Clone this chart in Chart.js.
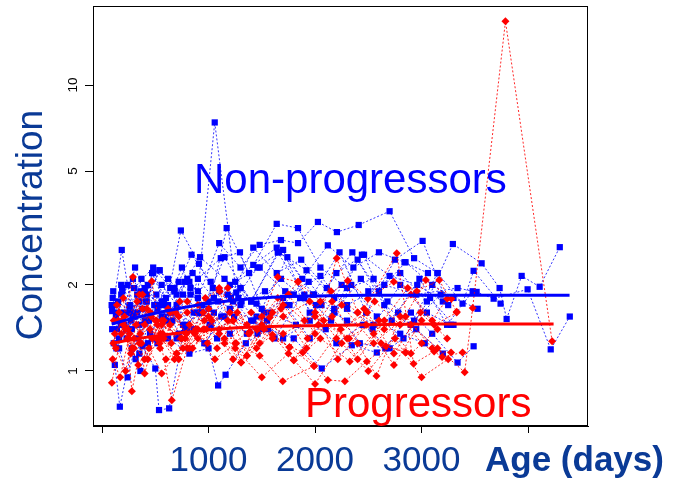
<!DOCTYPE html>
<html>
<head>
<meta charset="utf-8">
<script src="https://cdn.jsdelivr.net/npm/chart.js@4.4.0/dist/chart.umd.min.js"></script>
<style>
  html, body { margin: 0; padding: 0; background: #ffffff; }
  #wrap { width: 675px; height: 481px; position: relative; }
</style>
</head>
<body>
<div id="wrap"><canvas id="c" width="675" height="481"></canvas></div>
<script>
// Longitudinal concentration by age, one dotted trace per child.

// Non-progressors: visit ages (days) and measured concentration
const nonProgDays = [
  [95, 185, 290, 400, 520, 650, 780, 900, 1058, 1260, 1450, 1680, 1900],
  [110, 190, 280, 380, 470, 580, 740, 910, 1090, 1300, 1520, 1760, 2010, 2250],
  [150, 270, 400, 560, 720, 900, 1100, 1300, 1480, 1680, 1840, 2027, 2205, 2410, 2700, 2930, 3150],
  [100, 175, 260, 360, 460, 560, 690, 830, 1000, 1170, 1380, 1640, 1840, 2050, 2300, 2550],
  [120, 167, 280, 360, 450, 560, 700, 860, 1020, 1200, 1420],
  [140, 260, 380, 500, 535, 630, 780, 940, 1120, 1310, 1530, 1760, 1990],
  [180, 330, 480, 620, 760, 900, 1115, 1295, 1500, 1740, 1980, 2230, 2480, 2750, 3010, 3250],
  [90, 230, 370, 510, 660, 830, 1010, 1230, 1460, 1700, 1950, 2200, 2460, 2720, 2980, 3240, 3480],
  [2500, 2800, 3050, 3294, 3564, 3733, 3799, 3940, 4109, 4298],
  [2300, 2650, 2950, 3338, 3517, 3677, 3996, 4213, 4392],
  [130, 240, 350, 470, 600, 750, 930, 1150, 1400, 1650, 1900, 2150, 2400, 2650, 2900, 3150, 3385, 3489, 3742],
  [160, 300, 430, 580, 720, 890, 1080, 1280, 1500, 1720, 1950, 2180, 2420, 2660, 2900, 3100, 3338, 3489],
  [105, 200, 310, 420, 540, 680, 840, 1020, 1210, 1420, 1640, 1870, 2110, 2350, 2600, 2850, 3100, 3300, 3526],
  [210, 350, 490, 640, 800, 980, 1180, 1400, 1620, 1860, 2100, 2340, 2580, 2830, 3080, 3300],
  [115, 190, 270, 350, 430, 520, 620, 760, 920, 1100, 1300],
  [250, 420, 600, 800, 1000, 1200, 1420, 1640, 1880, 2120, 2360, 2600, 2840, 3060],
  [135, 225, 315, 410, 510, 640, 790, 960, 1150, 1360, 1580, 1820, 2060, 2300, 2540, 2780],
  [300, 480, 700, 920, 1150, 1400, 1660, 1920, 2180, 2440, 2700, 2960, 3200],
  [95, 160, 240, 330, 420, 520, 640, 780, 940],
  [400, 600, 820, 1050, 1300, 1550, 1800, 2050, 2300, 2550, 2800, 3050, 3277],
  [180, 290, 410, 540, 680, 850, 1050, 1250, 1480, 1720],
  [1200, 1450, 1700, 1950, 2200, 2450, 2700, 2950, 3200],
  [620, 820, 1000, 1090, 1160, 1350, 1560, 1800, 2063, 2345, 2580, 2800, 3030],
  [140, 230, 330, 440, 560, 700, 860, 1040, 1240, 1460, 1700, 1940, 2180, 2430, 2680, 2930, 3180]
];
const nonProgConc = [
  [1.62, 2.65, 1.55, 1.95, 1.7, 1.48, 2.05, 1.9, 7.4, 1.88, 1.72, 2.1, 1.8],
  [1.25, 1.95, 1.4, 1.65, 1.3, 1.55, 3.1, 2.37, 1.75, 1.95, 1.6, 1.85, 1.7, 2.0],
  [1.75, 1.6, 1.9, 1.7, 2.05, 1.8, 2.8, 2.3, 2.76, 2.87, 2.8, 3.32, 3.06, 3.24, 3.62, 2.48, 2.2],
  [1.8, 1.45, 1.7, 1.9, 1.55, 1.75, 1.6, 1.85, 1.65, 3.16, 2.2, 3.27, 3.16, 2.3, 1.95, 2.1],
  [1.05, 0.75, 1.2, 1.0, 1.35, 1.55, 1.3, 1.6, 1.45, 1.65, 1.5],
  [1.4, 1.68, 1.22, 1.02, 0.73, 0.74, 1.45, 1.6, 1.55, 1.75, 1.9, 1.7, 1.85],
  [2.0, 1.6, 2.2, 1.7, 1.45, 2.1, 2.48, 2.6, 1.65, 2.5, 1.85, 2.6, 1.6, 2.45, 2.85, 1.7],
  [1.7, 1.4, 2.1, 1.85, 1.5, 1.95, 1.45, 1.75, 2.3, 2.65, 1.6, 2.2, 2.55, 1.5, 2.1, 1.45, 1.9],
  [1.9, 2.2, 1.75, 2.78, 2.38, 1.95, 1.52, 2.15, 1.97, 2.71],
  [1.7, 2.0, 1.85, 1.95, 1.89, 1.79, 1.93, 1.19, 1.55],
  [1.55, 2.0, 1.45, 2.2, 1.7, 2.3, 1.6, 2.5, 1.75, 2.6, 1.85, 1.5, 2.45, 1.7, 1.45, 2.2, 1.72, 2.24, 1.72],
  [1.3, 1.55, 1.25, 1.75, 1.35, 1.6, 1.3, 1.8, 1.4, 1.7, 1.3, 1.65, 1.25, 1.2, 1.6, 1.35, 1.07, 1.22],
  [1.9, 1.6, 2.3, 1.75, 2.25, 1.9, 2.55, 2.05, 1.8, 2.7, 2.2, 2.45, 1.95, 2.6, 1.9, 2.4, 2.0, 1.8, 1.65],
  [1.45, 1.15, 1.7, 1.95, 1.4, 1.25, 1.85, 1.5, 1.3, 1.8, 1.4, 2.0, 1.55, 1.3, 1.8, 1.45],
  [1.7, 1.9, 1.5, 1.75, 2.0, 1.65, 2.1, 1.85, 1.6, 1.9, 1.7],
  [1.6, 1.85, 1.5, 2.1, 1.75, 2.0, 2.35, 2.7, 2.1, 2.75, 2.3, 2.6, 2.4, 2.2],
  [1.2, 1.4, 1.1, 1.5, 1.3, 1.6, 1.4, 1.25, 1.55, 1.35, 1.6, 1.45, 1.7, 1.5, 1.4, 1.6],
  [1.95, 2.3, 1.85, 2.5, 2.1, 1.75, 2.6, 2.25, 1.8, 2.55, 2.15, 2.0, 1.75],
  [1.4, 1.2, 0.95, 1.3, 1.5, 1.25, 1.6, 1.4, 1.7],
  [1.5, 1.8, 2.05, 1.6, 1.95, 1.5, 1.85, 2.15, 1.65, 1.45, 2.0, 1.6, 1.45],
  [1.85, 2.1, 1.75, 2.25, 1.95, 2.2, 1.8, 2.05, 2.3, 1.9],
  [1.35, 1.55, 1.3, 1.5, 1.25, 1.45, 1.2, 1.4, 1.15],
  [1.3, 1.15, 1.2, 0.89, 0.97, 1.25, 1.4, 1.3, 1.02, 1.23, 1.16, 1.35, 1.25],
  [1.6, 1.3, 1.85, 1.5, 2.0, 1.7, 1.4, 1.95, 1.55, 1.35, 1.8, 2.05, 1.6, 2.1, 1.75, 1.5, 1.85]
];

// Progressors: visit ages (days) and measured concentration
const progDays = [
  [300, 560, 820, 1100, 1400, 1700, 2000, 2300, 2600, 2900, 3150, 3405, 3480, 3788, 4226],
  [92, 180, 290, 400, 520, 655, 800, 960],
  [110, 200, 280, 370, 467, 560, 680, 820, 990, 1180, 1380],
  [130, 220, 320, 430, 550, 690, 850, 1030, 1230, 1450, 1680, 1920, 2160, 2400, 2650, 2900, 3150],
  [160, 260, 380, 510, 650, 800, 980, 1180, 1387, 1600, 1840, 2080, 2320, 2560, 2800, 3040, 3280],
  [100, 170, 250, 340, 440, 560, 700, 870, 1060, 1260, 1480, 1697, 1990],
  [200, 330, 470, 620, 790, 970, 1105, 1305, 1520, 1760, 2000, 2214, 2480, 2740, 3000],
  [240, 400, 580, 760, 950, 1150, 1360, 1575, 1800, 2030, 2203, 2400, 2620, 2850],
  [350, 560, 780, 1000, 1230, 1460, 1650, 1840, 2050, 2307, 2496, 2739, 2955, 3166, 3330],
  [120, 210, 300, 400, 510, 640, 790, 960, 1150, 1360, 1600, 1885, 2120, 2280, 2486, 2665, 2850],
  [450, 700, 950, 1200, 1450, 1700, 1950, 2200, 2460, 2767, 2925, 3118, 3277],
  [150, 280, 420, 570, 730, 900, 1080, 1270, 1480, 1700, 1930, 2160, 2400, 2577, 2800, 3000, 3193, 3385],
  [600, 900, 1230, 1360, 1600, 1800, 2050, 2326, 2550, 2870, 3100, 3240],
  [105, 185, 270, 360, 455, 545, 640, 740],
  [220, 380, 540, 720, 900, 1100, 1305, 1500, 1760, 1990, 2240, 2490, 2740, 2990, 3240],
  [800, 1100, 1387, 1650, 1900, 2150, 2400, 2650, 2900, 3118, 3330],
  [140, 240, 350, 460, 580, 720, 880],
  [1250, 1500, 1750, 2000, 2250, 2500, 2750, 3000, 3250],
  [500, 750, 1000, 1250, 1500, 1750, 2000, 2250, 2550, 2850, 3100]
];
const progConc = [
  [1.3, 1.5, 1.2, 1.4, 1.6, 1.35, 1.55, 1.3, 1.5, 1.45, 1.2, 0.99, 1.66, 16.7, 1.27],
  [0.91, 1.35, 2.13, 0.98, 1.45, 0.79, 1.2, 1.4],
  [1.5, 1.8, 0.85, 1.25, 2.06, 1.3, 1.1, 1.45, 1.25, 1.5, 1.35],
  [1.2, 1.0, 1.45, 1.1, 1.35, 1.6, 1.2, 1.5, 1.1, 1.4, 1.65, 1.2, 1.55, 1.1, 1.5, 1.15, 1.4],
  [1.6, 1.35, 1.85, 1.5, 1.25, 1.75, 1.4, 1.95, 1.37, 1.6, 2.05, 1.5, 1.3, 1.75, 1.45, 2.08, 1.79],
  [1.1, 0.95, 1.3, 1.05, 1.2, 0.98, 1.15, 1.35, 1.1, 1.25, 1.13, 0.92, 1.04],
  [1.45, 1.75, 1.3, 1.65, 1.35, 1.8, 1.9, 1.07, 1.4, 1.21, 1.6, 1.1, 1.45, 1.05, 1.5],
  [1.3, 1.1, 1.5, 1.2, 1.6, 1.3, 1.13, 1.54, 1.09, 1.45, 2.48, 1.6, 1.25, 1.16],
  [1.25, 1.45, 1.3, 1.55, 1.5, 1.4, 2.13, 2.05, 1.75, 2.07, 1.79, 2.05, 1.9, 2.08, 1.61],
  [1.35, 1.55, 1.2, 1.45, 1.3, 1.6, 1.35, 1.5, 1.25, 1.45, 1.3, 1.16, 0.93, 0.92, 1.08, 1.22, 1.16],
  [1.4, 1.15, 1.4, 1.6, 1.2, 1.55, 1.75, 1.3, 1.65, 2.58, 1.06, 1.17, 1.16],
  [1.5, 1.2, 1.65, 1.35, 1.75, 1.4, 1.2, 1.6, 1.25, 1.7, 1.3, 1.75, 1.25, 0.96, 1.55, 1.25, 1.12, 1.16],
  [1.1, 1.3, 1.5, 1.13, 1.34, 1.09, 1.3, 1.08, 1.35, 1.95, 1.5, 1.79],
  [1.25, 1.5, 1.15, 1.35, 1.6, 1.2, 1.45, 1.3],
  [1.4, 1.65, 1.25, 1.55, 1.7, 1.35, 1.07, 1.45, 1.21, 1.04, 1.4, 1.6, 1.15, 1.6, 1.3],
  [1.6, 1.95, 1.37, 1.8, 1.5, 1.9, 1.6, 1.4, 1.85, 1.45, 1.6],
  [1.7, 1.4, 1.85, 1.55, 1.3, 1.1, 1.4],
  [1.2, 0.95, 1.15, 0.9, 1.25, 1.0, 1.3, 0.95, 1.1],
  [1.5, 1.3, 1.65, 1.25, 1.55, 1.85, 1.35, 1.7, 1.25, 1.55, 1.2]
];

// Smoothed group means
const nonProgSmoothDays = [90, 300, 600, 900, 1200, 1600, 2000, 2500, 3000, 3500, 4000, 4390];
const nonProgSmoothConc = [1.46, 1.53, 1.62, 1.70, 1.76, 1.81, 1.83, 1.84, 1.84, 1.84, 1.84, 1.84];
const progSmoothDays = [90, 300, 600, 900, 1200, 1600, 2000, 2500, 3000, 3500, 4000, 4240];
const progSmoothConc = [1.25, 1.29, 1.34, 1.38, 1.41, 1.43, 1.44, 1.45, 1.46, 1.46, 1.46, 1.46];

// Axis ticks
const xTickValues = [0, 1000, 2000, 3000, 4000];
const xTickLabels = ['', '1000', '2000', '3000', ''];
const yTickValues = [1, 2, 5, 10];
const yTickLabels = ['1', '2', '5', '10'];

const BLUE = '#0000ff';
const RED = '#ff0000';
const AXIS_BLUE = '#0a3a96';
const FONT = '"Liberation Sans", Arial, Helvetica, sans-serif';

function toPoints(days, conc) {
  return days.map((d, i) => ({ x: d, y: conc[i] }));
}

const datasets = [];
datasets.push({
  data: toPoints(progSmoothDays, progSmoothConc),
  showLine: true, borderColor: RED, borderWidth: 3, pointRadius: 0,
  cubicInterpolationMode: 'monotone', order: 0
});
datasets.push({
  data: toPoints(nonProgSmoothDays, nonProgSmoothConc),
  showLine: true, borderColor: BLUE, borderWidth: 3, pointRadius: 0,
  cubicInterpolationMode: 'monotone', order: 0
});
progDays.forEach((d, i) => datasets.push({
  data: toPoints(d, progConc[i]),
  showLine: true, borderColor: 'rgba(255,0,0,0.85)', borderWidth: 1, borderDash: [2, 2],
  pointStyle: 'rectRot', pointRadius: 4, pointBackgroundColor: RED,
  pointBorderWidth: 0, pointHoverRadius: 4, order: 1
}));
nonProgDays.forEach((d, i) => datasets.push({
  data: toPoints(d, nonProgConc[i]),
  showLine: true, borderColor: 'rgba(0,0,255,0.8)', borderWidth: 1, borderDash: [2, 2],
  pointStyle: 'rect', pointRadius: 4.4, pointBackgroundColor: BLUE,
  pointBorderWidth: 0, pointHoverRadius: 4.4, order: 2
}));

// Frame, axis labels and group captions
const decorations = {
  id: 'decorations',
  afterDraw(chart) {
    const { ctx, chartArea: a, scales: { x, y } } = chart;
    ctx.save();
    ctx.strokeStyle = '#000';
    ctx.lineWidth = 1;
    ctx.strokeRect(Math.round(a.left) + 0.5, Math.round(a.top) + 0.5,
                   Math.round(a.right - a.left) - 1, Math.round(a.bottom - a.top) - 1);

    // y tick labels, parallel to the axis
    ctx.fillStyle = '#000';
    ctx.font = '13.5px ' + FONT;
    ctx.textAlign = 'center';
    ctx.textBaseline = 'alphabetic';
    yTickValues.forEach((v, i) => {
      ctx.save();
      ctx.translate(77, y.getPixelForValue(v));
      ctx.rotate(-Math.PI / 2);
      ctx.fillText(yTickLabels[i], 0, 0);
      ctx.restore();
    });

    // x tick labels
    ctx.fillStyle = AXIS_BLUE;
    ctx.font = '35px ' + FONT;
    xTickValues.forEach((v, i) => {
      if (xTickLabels[i]) ctx.fillText(xTickLabels[i], x.getPixelForValue(v), 471);
    });

    // axis titles
    ctx.font = 'bold 35px ' + FONT;
    ctx.textAlign = 'left';
    ctx.fillText('Age (days)', 485, 471);

    ctx.save();
    ctx.font = '37px ' + FONT;
    ctx.textAlign = 'center';
    ctx.translate(41.5, 225);
    ctx.rotate(-Math.PI / 2);
    ctx.fillText('Concentration', 0, 0);
    ctx.restore();

    // group captions
    ctx.textAlign = 'left';
    ctx.font = '42px ' + FONT;
    ctx.fillStyle = BLUE;
    ctx.fillText('Non-progressors', 194, 193);
    ctx.fillStyle = RED;
    ctx.fillText('Progressors', 305, 417);
    ctx.restore();
  }
};

new Chart(document.getElementById('c'), {
  type: 'scatter',
  data: { datasets },
  options: {
    responsive: false,
    animation: false,
    devicePixelRatio: 1,
    layout: { padding: { left: 0, top: 6, right: 87, bottom: 0 } },
    plugins: { legend: { display: false }, tooltip: { enabled: false } },
    scales: {
      x: {
        type: 'linear', min: -85, max: 4563, bounds: 'data',
        afterBuildTicks(s) { s.ticks = xTickValues.map(v => ({ value: v })); },
        afterFit(s) { s.height = 55; },
        ticks: { display: false },
        grid: { display: true, drawOnChartArea: false, drawTicks: true, tickLength: 7,
                color: '#000', tickColor: '#000', lineWidth: 1 },
        border: { display: true, color: '#000', width: 1 }
      },
      y: {
        type: 'logarithmic', min: 0.642, max: 18.9, bounds: 'data',
        afterBuildTicks(s) { s.ticks = yTickValues.map(v => ({ value: v })); },
        afterFit(s) { s.width = 93; },
        ticks: { display: false },
        grid: { display: true, drawOnChartArea: false, drawTicks: true, tickLength: 8,
                color: '#000', tickColor: '#000', lineWidth: 1 },
        border: { display: true, color: '#000', width: 1 }
      }
    }
  },
  plugins: [decorations]
});
</script>
</body>
</html>
